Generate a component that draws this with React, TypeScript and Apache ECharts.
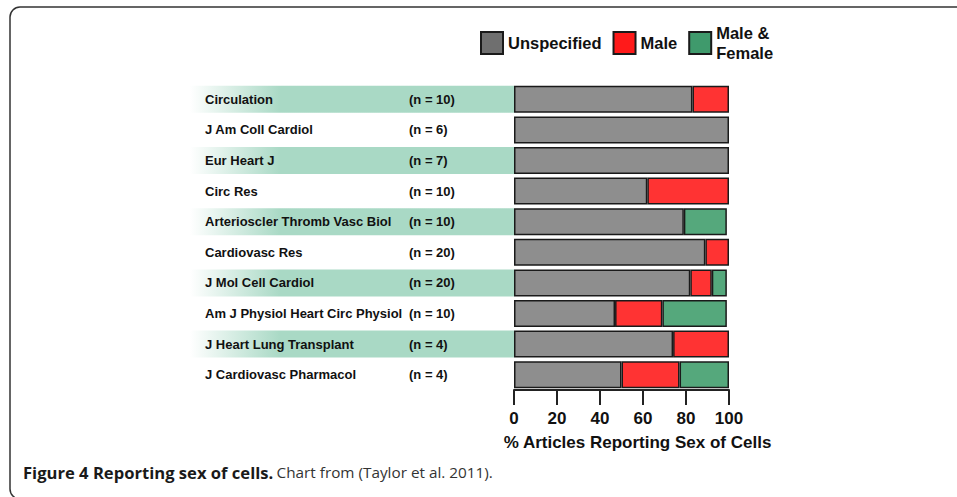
import React, { useEffect, useRef } from "react";
import * as echarts from "echarts";

const journals = [
  "Circulation",
  "J Am Coll Cardiol",
  "Eur Heart J",
  "Circ Res",
  "Arterioscler Thromb Vasc Biol",
  "Cardiovasc Res",
  "J Mol Cell Cardiol",
  "Am J Physiol Heart Circ Physiol",
  "J Heart Lung Transplant",
  "J Cardiovasc Pharmacol",
];
const nLabels = ["(n = 10)", "(n = 6)", "(n = 7)", "(n = 10)", "(n = 10)", "(n = 20)", "(n = 20)", "(n = 10)", "(n = 4)", "(n = 4)"];
const unspecified = [83, 100, 100, 62, 79, 89, 82, 47, 74, 50];
const male = [17, 0, 0, 38, 0, 11, 10, 22, 26, 27];
const maleFemale = [0, 0, 0, 0, 20, 0, 7, 30, 0, 23];
const xTicks = { min: 0, max: 100, interval: 20 };

const FONT = "'Liberation Sans', Arial, sans-serif";
const GRAY = "#8e8e8e";
const RED = "#ff3333";
const GREEN = "#55a87c";
const BAND = "#a9d9c5";

const toData = (arr: number[]) => arr.map((v) => (v === 0 ? "-" : v));

export default function App() {
  const ref = useRef<HTMLDivElement>(null);
  useEffect(() => {
    if (!ref.current) return;
    const chart = echarts.init(ref.current, null, { renderer: "svg" });
    const barStyle = (color: string) => ({
      color,
      borderColor: "#1a1a1a",
      borderWidth: 1.5,
    });
    const bandData = journals.map((_, i) => (i % 2 === 0 ? 1 : "-"));
    chart.setOption({
      animation: false,
      backgroundColor: "#ffffff",
      legend: {
        left: 475,
        top: 18,
        itemWidth: 22,
        itemGap: 11,
        itemHeight: 22,
        icon: "rect",
        data: [
          { name: "Unspecified", itemStyle: { color: "#6f6f6f" } },
          { name: "Male", itemStyle: { color: "#ff1a1a" } },
          { name: "Male & Female", itemStyle: { color: "#3f9a6c" } },
        ],
        formatter: (name: string) => (name === "Male & Female" ? "Male &\nFemale" : name),
        textStyle: {
          fontFamily: FONT,
          fontWeight: "bold",
          fontSize: 16.5,
          color: "#111",
          lineHeight: 20,
        },
      },
      grid: [
        { left: 514, right: 228, top: 84, height: 306, containLabel: false },
        { left: 190, right: 443, top: 84, height: 306, containLabel: false },
      ],
      xAxis: [
        {
          type: "value",
          gridIndex: 0,
          min: xTicks.min,
          max: xTicks.max,
          interval: xTicks.interval,
          splitLine: { show: false },
          axisLine: { show: true, lineStyle: { color: "#222", width: 2 } },
          axisTick: { show: true, length: 15, lineStyle: { color: "#222", width: 2 } },
          axisLabel: {
            margin: 20,
            fontFamily: FONT,
            fontWeight: "bold",
            fontSize: 17,
            color: "#111",
          },
          name: "% Articles Reporting Sex of Cells",
          nameLocation: "middle",
          nameGap: 44,
          nameTextStyle: {
            fontFamily: FONT,
            fontWeight: "bold",
            fontSize: 17,
            color: "#111",
            padding: [0, 0, 0, 32],
          },
        },
        { type: "value", gridIndex: 1, min: 0, max: 1, show: false },
      ],
      yAxis: [
        {
          type: "category",
          gridIndex: 0,
          inverse: true,
          data: journals,
          z: 10,
          axisLine: { show: false },
          axisTick: { show: false },
          splitLine: { show: false },
          axisLabel: {
            align: "left",
            margin: 309,
            formatter: (value: string, idx: number) => `{a|${value}}{b|${nLabels[idx]}}`,
            rich: {
              a: { width: 204, fontFamily: FONT, fontWeight: "bold", fontSize: 13, color: "#111" },
              b: { fontFamily: FONT, fontWeight: "bold", fontSize: 13, color: "#111" },
            },
          },
        },
        { type: "category", gridIndex: 1, inverse: true, data: journals, show: false },
      ],
      series: [
        {
          name: "band",
          type: "bar",
          xAxisIndex: 1,
          yAxisIndex: 1,
          barWidth: 27,
          z: 1,
          silent: true,
          itemStyle: {
            color: new echarts.graphic.LinearGradient(0, 0, 1, 0, [
              { offset: 0, color: "rgba(169,217,197,0)" },
              { offset: 0.28, color: BAND },
              { offset: 1, color: BAND },
            ]),
          },
          data: bandData,
        },
        {
          name: "Unspecified",
          type: "bar",
          stack: "s",
          barWidth: 27,
          itemStyle: barStyle(GRAY),
          data: toData(unspecified),
        },
        {
          name: "Male",
          type: "bar",
          stack: "s",
          barWidth: 27,
          itemStyle: barStyle(RED),
          data: toData(male),
        },
        {
          name: "Male & Female",
          type: "bar",
          stack: "s",
          barWidth: 27,
          itemStyle: barStyle(GREEN),
          data: toData(maleFemale),
        },
      ],
      graphic: [
        {
          type: "rect",
          shape: { x: 10, y: 7, width: 1000, height: 492, r: 10 },
          style: { fill: "none", stroke: "#333", lineWidth: 1.5 },
          silent: true,
        },
        {
          type: "text",
          x: 23,
          y: 472,
          style: {
            text: "{b|Figure 4 Reporting sex of cells.} {r|Chart from (Taylor et al. 2011).}",
            verticalAlign: "middle",
            rich: {
              b: { fontFamily: "'Open Sans', sans-serif", fontWeight: "bold", fontSize: 16.6, fill: "#1a1a1a" },
              r: { fontFamily: "'Open Sans', sans-serif", fontWeight: "normal", fontSize: 15.3, fill: "#333" },
            },
          },
        },
      ],
    });
    return () => chart.dispose();
  }, []);
  return (
    <div
      ref={ref}
      style={{ position: "fixed", left: 0, top: 0, width: 957, height: 497 }}
    />
  );
}
